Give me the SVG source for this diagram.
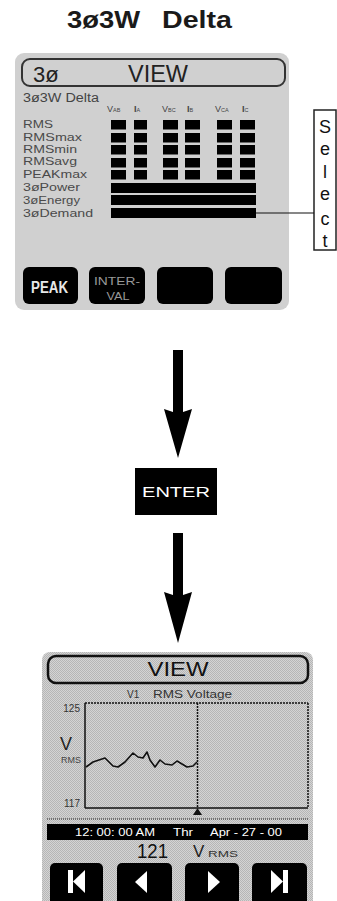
<svg xmlns="http://www.w3.org/2000/svg" width="337" height="901" viewBox="0 0 337 901">
<defs>
<style>
text{font-family:"Liberation Sans",Arial,sans-serif}
.lbl{font-size:11.5px;fill:#4a4a4a}
.col{font-size:9px;fill:#444}
.sub{font-size:5.5px}
.bar{fill:#000}
.btn{fill:#000}
.ic{fill:#fff}
.sel{font-size:18px;fill:#111;text-anchor:middle}
</style>
<pattern id="dots" width="2" height="2" patternUnits="userSpaceOnUse">
<rect width="2" height="2" fill="#d4d4d4"/>
<rect width="1" height="1" fill="#b6b6b6"/>
<rect x="1" y="1" width="1" height="1" fill="#b6b6b6"/>
</pattern>
</defs>
<rect width="337" height="901" fill="#fff"/>

<g id="title">
<text x="67" y="28" font-size="23" font-weight="bold" fill="#1a1a1a" textLength="73" lengthAdjust="spacingAndGlyphs">3ø3W</text>
<text x="162" y="28" font-size="23" font-weight="bold" fill="#1a1a1a" textLength="70" lengthAdjust="spacingAndGlyphs">Delta</text>
</g>

<g id="screen1">
<rect x="15" y="53" width="274" height="257" rx="9" fill="#d0d0d0"/>
<rect x="22" y="59" width="263" height="27" rx="8" fill="none" stroke="#333" stroke-width="2"/>
<text x="33" y="82" font-size="22" fill="#222">3ø</text>
<text x="158" y="82" font-size="23" fill="#222" text-anchor="middle" textLength="60" lengthAdjust="spacingAndGlyphs">VIEW</text>
<text x="23" y="102" font-size="12" fill="#444" textLength="76" lengthAdjust="spacingAndGlyphs">3ø3W Delta</text>
<text class="col" x="107" y="112">V<tspan class="sub">AB</tspan></text>
<text class="col" x="134" y="112" font-weight="bold">I<tspan class="sub" font-weight="normal">A</tspan></text>
<text class="col" x="162" y="112">V<tspan class="sub">BC</tspan></text>
<text class="col" x="187" y="112" font-weight="bold">I<tspan class="sub" font-weight="normal">B</tspan></text>
<text class="col" x="215" y="112">V<tspan class="sub">CA</tspan></text>
<text class="col" x="242" y="112" font-weight="bold">I<tspan class="sub" font-weight="normal">C</tspan></text>

<text class="lbl" x="23" y="128" textLength="30" lengthAdjust="spacingAndGlyphs">RMS</text>
<text class="lbl" x="23" y="141" textLength="59" lengthAdjust="spacingAndGlyphs">RMSmax</text>
<text class="lbl" x="23" y="153" textLength="54" lengthAdjust="spacingAndGlyphs">RMSmin</text>
<text class="lbl" x="23" y="165" textLength="54" lengthAdjust="spacingAndGlyphs">RMSavg</text>
<text class="lbl" x="23" y="178" textLength="64" lengthAdjust="spacingAndGlyphs">PEAKmax</text>
<text class="lbl" x="23" y="191" textLength="57" lengthAdjust="spacingAndGlyphs">3øPower</text>
<text class="lbl" x="23" y="204" textLength="57" lengthAdjust="spacingAndGlyphs">3øEnergy</text>
<text class="lbl" x="23" y="217" textLength="70" lengthAdjust="spacingAndGlyphs">3øDemand</text>

<g class="bar">
<rect x="111" y="120" width="15" height="9.5"/><rect x="134" y="120" width="13" height="9.5"/><rect x="163" y="120" width="15" height="9.5"/><rect x="185" y="120" width="15" height="9.5"/><rect x="217" y="120" width="15" height="9.5"/><rect x="240" y="120" width="15" height="9.5"/>
<rect x="111" y="133" width="15" height="9.5"/><rect x="134" y="133" width="13" height="9.5"/><rect x="163" y="133" width="15" height="9.5"/><rect x="185" y="133" width="15" height="9.5"/><rect x="217" y="133" width="15" height="9.5"/><rect x="240" y="133" width="15" height="9.5"/>
<rect x="111" y="145" width="15" height="9.5"/><rect x="134" y="145" width="13" height="9.5"/><rect x="163" y="145" width="15" height="9.5"/><rect x="185" y="145" width="15" height="9.5"/><rect x="217" y="145" width="15" height="9.5"/><rect x="240" y="145" width="15" height="9.5"/>
<rect x="111" y="158" width="15" height="9.5"/><rect x="134" y="158" width="13" height="9.5"/><rect x="163" y="158" width="15" height="9.5"/><rect x="185" y="158" width="15" height="9.5"/><rect x="217" y="158" width="15" height="9.5"/><rect x="240" y="158" width="15" height="9.5"/>
<rect x="111" y="170" width="15" height="9.5"/><rect x="134" y="170" width="13" height="9.5"/><rect x="163" y="170" width="15" height="9.5"/><rect x="185" y="170" width="15" height="9.5"/><rect x="217" y="170" width="15" height="9.5"/><rect x="240" y="170" width="15" height="9.5"/>
<rect x="111" y="183" width="145" height="10"/>
<rect x="111" y="195" width="145" height="10"/>
<rect x="111" y="208" width="145" height="10"/>
</g>

<rect class="btn" x="23" y="267" width="55" height="37" rx="6"/>
<rect class="btn" x="89" y="267" width="56" height="37" rx="6"/>
<rect class="btn" x="157" y="267" width="56" height="37" rx="6"/>
<rect class="btn" x="225" y="267" width="57" height="37" rx="6"/>
<text x="31" y="293" font-size="16" font-weight="bold" fill="#e8e8e8" textLength="37" lengthAdjust="spacingAndGlyphs">PEAK</text>
<text x="117" y="285" font-size="11" fill="#999" text-anchor="middle" textLength="46" lengthAdjust="spacingAndGlyphs">INTER-</text>
<text x="118" y="300" font-size="11" fill="#999" text-anchor="middle" textLength="23" lengthAdjust="spacingAndGlyphs">VAL</text>
</g>

<g id="select">
<rect x="314" y="110" width="22" height="140" fill="#fff" stroke="#222" stroke-width="1.5"/>
<text class="sel" x="325" y="133">S</text>
<text class="sel" x="325" y="155">e</text>
<text class="sel" x="325" y="178">l</text>
<text class="sel" x="325" y="200">e</text>
<text class="sel" x="325" y="225">c</text>
<text class="sel" x="325" y="247">t</text>
</g>

<g id="enter">
<rect x="135" y="468" width="82" height="47" fill="#000"/>
<text x="176" y="497" font-size="14" fill="#fff" text-anchor="middle" textLength="68" lengthAdjust="spacingAndGlyphs">ENTER</text>
</g>

<g id="screen2">
<rect x="42" y="652" width="271" height="260" rx="8" fill="url(#dots)"/>
<rect x="48" y="656" width="260" height="27" rx="8" fill="url(#dots)" stroke="#111" stroke-width="2.5"/>
<text x="178" y="676" font-size="21" fill="#111" text-anchor="middle" textLength="61" lengthAdjust="spacingAndGlyphs">VIEW</text>
<text x="127" y="698" font-size="10" fill="#333">V1</text>
<text x="153" y="698" font-size="10" fill="#333" textLength="79" lengthAdjust="spacingAndGlyphs">RMS Voltage</text>
<text x="80" y="712" font-size="10" fill="#333" text-anchor="end">125</text>
<text x="80" y="807" font-size="10" fill="#333" text-anchor="end">117</text>
<text x="66" y="750" font-size="18" fill="#222" text-anchor="middle">V</text>
<text x="81" y="763" font-size="9" fill="#444" text-anchor="end">RMS</text>
<line x1="85" y1="703" x2="85" y2="808" stroke="#111" stroke-width="1.5"/>
<line x1="85" y1="808" x2="308" y2="808" stroke="#111" stroke-width="1.5"/>
<line x1="85" y1="703" x2="308" y2="703" stroke="#111" stroke-width="1.5" stroke-dasharray="2 1"/>
<line x1="308" y1="703" x2="308" y2="808" stroke="#111" stroke-width="1.5" stroke-dasharray="2 1"/>
<line x1="197.5" y1="703" x2="197.5" y2="808" stroke="#111" stroke-width="1.5" stroke-dasharray="2 1"/>
<polygon points="193,815 202,815 197.5,808" fill="#111"/>
<polyline points="86,767 93,762 105,758 113,766 118,767 125,762 133,753 138,757 143,758 147,752 150,760 155,767 160,760 165,764 172,765 177,761 182,764 187,767 193,766 197,762" fill="none" stroke="#111" stroke-width="1.6" stroke-linejoin="round"/>
<line x1="47" y1="819" x2="308" y2="819" stroke="#555" stroke-width="1.5" stroke-dasharray="1 1"/>
<rect x="47" y="824" width="261" height="16" fill="#000"/>
<text x="75" y="836" font-size="10" fill="#fff" textLength="80" lengthAdjust="spacingAndGlyphs">12: 00: 00 AM</text>
<text x="173" y="836" font-size="10" fill="#fff" textLength="20" lengthAdjust="spacingAndGlyphs">Thr</text>
<text x="210" y="836" font-size="10" fill="#fff" textLength="72" lengthAdjust="spacingAndGlyphs">Apr - 27 - 00</text>
<text x="137" y="858" font-size="20" fill="#111" textLength="31" lengthAdjust="spacingAndGlyphs">121</text>
<text x="193" y="857" font-size="17" fill="#222">V</text>
<text x="208" y="857" font-size="9" fill="#333" textLength="30" lengthAdjust="spacingAndGlyphs">RMS</text>
<rect class="btn" x="50" y="863" width="53" height="45" rx="5"/>
<rect class="btn" x="117" y="863" width="55" height="45" rx="5"/>
<rect class="btn" x="185" y="863" width="54" height="45" rx="5"/>
<rect class="btn" x="252" y="863" width="55" height="45" rx="5"/>
<rect class="ic" x="68" y="870" width="5" height="23"/>
<polygon class="ic" points="73,881.5 85,870 85,893"/>
<polygon class="ic" points="135,882 147,871 147,893"/>
<polygon class="ic" points="220,882 208,871 208,893"/>
<polygon class="ic" points="283,881.5 271,870 271,893"/>
<rect class="ic" x="283" y="870" width="5" height="23"/>
</g>

<g id="connectors">
<line x1="256" y1="213" x2="314" y2="213" stroke="#111" stroke-width="1.2"/>
<path d="M173,350 H183 V412 L192,409 L178,458 L164,409 L173,412 Z" fill="#000"/>
<path d="M173,533 H183 V595 L192,592 L178,643 L164,592 L173,595 Z" fill="#000"/>
</g>
</svg>
